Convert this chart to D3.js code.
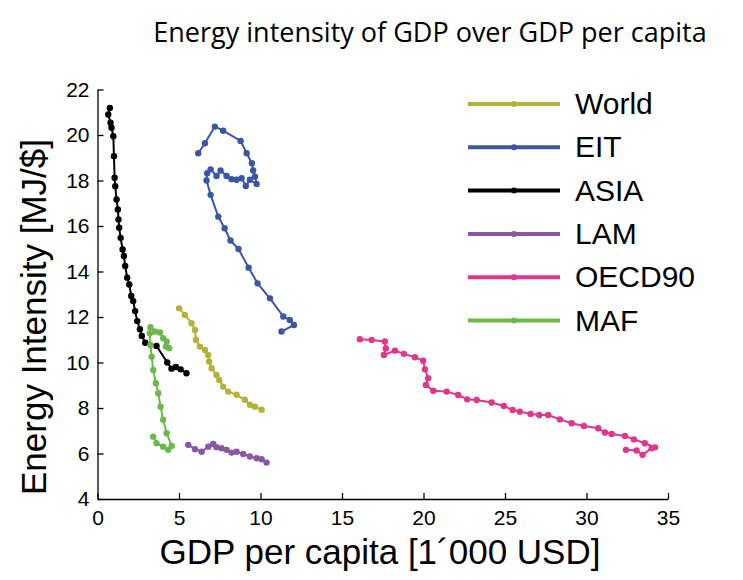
<html>
<head>
    <style>
        body { margin: 0; background: #fff; }
        text { font-family: "Liberation Sans", Arial, sans-serif; }
    </style>
</head>
<script src="https://d3js.org/d3.v7.min.js"></script>
<body>
    <svg id="main-svg" width="743" height="580"></svg>
    <script>
        // series: [gdp per capita (1000 USD), energy intensity (MJ/$)]
        const worldX = [5.01, 5.36, 5.77, 5.98, 6.04, 6.28, 6.59, 6.79, 6.85, 7.0, 7.3, 7.47, 7.71, 8.02, 8.53, 9.04, 9.35, 9.66, 10.07];
        const worldY = [12.38, 12.09, 11.73, 11.43, 10.99, 10.7, 10.55, 10.33, 10.04, 9.75, 9.45, 9.23, 8.94, 8.72, 8.58, 8.36, 8.14, 8.06, 7.92];

        const eitX = [6.18, 6.59, 7.2, 7.71, 8.78, 9.15, 9.47, 9.55, 9.66, 9.76, 9.35, 9.1, 8.84, 8.53, 8.22, 7.92, 7.55, 7.3, 6.94, 6.73, 6.69, 6.94, 7.41, 7.8, 8.16, 8.65, 9.27, 9.82, 10.58, 11.4, 11.8, 12.05, 11.29];
        const eitY = [19.2, 19.64, 20.37, 20.19, 19.74, 19.2, 18.76, 18.44, 18.17, 17.85, 18.03, 17.76, 18.1, 18.03, 18.06, 18.2, 18.44, 18.2, 18.49, 18.32, 18.0, 17.37, 16.41, 15.9, 15.36, 14.99, 14.17, 13.48, 12.82, 12.02, 11.87, 11.65, 11.36];

        const asiaX = [0.76, 0.66, 0.8, 0.86, 0.97, 1.01, 1.05, 1.09, 1.17, 1.25, 1.29, 1.33, 1.42, 1.54, 1.62, 1.7, 1.82, 1.95, 2.07, 2.19, 2.31, 2.44, 2.6, 2.72, 2.93, 3.62, 4.28, 4.54, 4.81, 5.1, 5.46];
        const asiaY = [21.19, 20.9, 20.54, 20.32, 19.95, 19.07, 18.12, 17.75, 17.17, 16.73, 16.29, 15.92, 15.48, 14.97, 14.68, 14.24, 13.73, 13.43, 12.92, 12.7, 12.26, 11.82, 11.46, 11.17, 10.87, 10.73, 10.0, 9.73, 9.8, 9.7, 9.53];

        const lamX = [5.57, 5.98, 6.39, 6.8, 7.1, 7.3, 7.61, 7.92, 8.22, 8.53, 8.94, 9.35, 9.76, 10.07, 10.37];
        const lamY = [6.38, 6.19, 6.08, 6.3, 6.42, 6.28, 6.23, 6.16, 6.04, 6.08, 5.98, 5.87, 5.79, 5.75, 5.6];

        const oecdX = [16.1, 16.82, 17.63, 17.69, 17.57, 18.25, 18.8, 19.47, 19.98, 20.09, 20.29, 20.15, 20.6, 21.42, 22.13, 22.68, 23.26, 24.18, 24.93, 25.47, 25.91, 26.57, 27.1, 27.65, 28.37, 29.09, 29.84, 30.72, 31.13, 31.54, 32.36, 32.91, 33.58, 34.2, 34.0, 33.44, 33.07, 32.42];
        const oecdY = [11.02, 10.99, 10.92, 10.62, 10.33, 10.52, 10.38, 10.23, 10.08, 9.7, 9.31, 9.01, 8.76, 8.72, 8.57, 8.38, 8.35, 8.24, 8.09, 7.91, 7.84, 7.74, 7.69, 7.69, 7.5, 7.33, 7.21, 7.11, 6.92, 6.86, 6.77, 6.62, 6.45, 6.27, 6.23, 5.94, 6.13, 6.16];

        const mafX = [3.42, 3.62, 4.03, 4.34, 4.55, 4.24, 4.03, 3.87, 3.73, 3.58, 3.42, 3.32, 3.25, 3.21, 3.25, 3.52, 3.83, 4.03, 4.24, 4.4, 4.2];
        const mafY = [6.74, 6.45, 6.3, 6.16, 6.33, 6.89, 7.48, 8.06, 8.65, 9.09, 9.67, 10.26, 10.77, 11.29, 11.55, 11.36, 11.32, 11.07, 10.92, 10.63, 10.7];

        const seriesNames = ["World", "EIT", "ASIA", "LAM", "OECD90", "MAF"];
        const seriesColors = ["#b3b23a", "#3b56a3", "#000000", "#8a57a5", "#e0368c", "#6cb94b"];
        const xTicks = [0, 5, 10, 15, 20, 25, 30, 35];
        const yTicks = [4, 6, 8, 10, 12, 14, 16, 18, 20, 22];

        const series = [
            [worldX, worldY], [eitX, eitY], [asiaX, asiaY],
            [lamX, lamY], [oecdX, oecdY], [mafX, mafY]
        ];

        const svg = d3.select("#main-svg");
        const x = d3.scaleLinear().domain([0, 35]).range([97.5, 668]);
        const y = d3.scaleLinear().domain([4, 22]).range([499, 89.5]);

        // title
        svg.append("text")
            .attr("x", 430).attr("y", 42)
            .attr("text-anchor", "middle")
            .style("font-family", "'Open Sans', sans-serif")
            .style("font-size", "27px")
            .text("Energy intensity of GDP over GDP per capita");

        // axes, ticks pointing inward
        const xAxis = svg.append("g").attr("transform", `translate(0,${y(4)})`)
            .call(d3.axisBottom(x).tickValues(xTicks).tickSizeInner(-6).tickSizeOuter(0).tickPadding(8));
        const yAxis = svg.append("g").attr("transform", `translate(${x(0)},0)`)
            .call(d3.axisLeft(y).tickValues(yTicks).tickSizeInner(-6).tickSizeOuter(0).tickPadding(8));
        [xAxis, yAxis].forEach(a => {
            a.selectAll("text").style("font-size", "21px").attr("fill", "#000");
            a.selectAll("line, path").attr("stroke", "#000").attr("stroke-width", 1.3);
        });
        xAxis.selectAll("text").attr("dy", "0.85em");

        svg.append("text")
            .attr("x", 380).attr("y", 564)
            .attr("text-anchor", "middle")
            .style("font-size", "35px")
            .text("GDP per capita [1´000 USD]");
        svg.append("text")
            .attr("transform", `translate(46,${y(12)}) rotate(-90)`)
            .attr("text-anchor", "middle")
            .style("font-size", "35px")
            .text("Energy Intensity [MJ/$]");

        const line = d3.line().x(d => x(d[0])).y(d => y(d[1]));

        series.forEach((s, i) => {
            const pts = s[0].map((v, k) => [v, s[1][k]]);
            const g = svg.append("g");
            g.append("path")
                .attr("d", line(pts))
                .attr("fill", "none")
                .attr("stroke", seriesColors[i])
                .attr("stroke-width", 2);
            g.selectAll("circle").data(pts).enter().append("circle")
                .attr("cx", d => x(d[0])).attr("cy", d => y(d[1]))
                .attr("r", 3.2)
                .attr("fill", seriesColors[i]);
        });

        // legend
        const legend = svg.append("g");
        seriesNames.forEach((name, i) => {
            const ly = 104 + i * 43.3;
            legend.append("line")
                .attr("x1", 468).attr("x2", 560).attr("y1", ly).attr("y2", ly)
                .attr("stroke", seriesColors[i]).attr("stroke-width", 4);
            legend.append("circle")
                .attr("cx", 514).attr("cy", ly).attr("r", 3)
                .attr("fill", seriesColors[i]);
            legend.append("text")
                .attr("x", 575).attr("y", ly + 10)
                .style("font-size", "30px")
                .text(name);
        });
    </script>
</body>
</html>
